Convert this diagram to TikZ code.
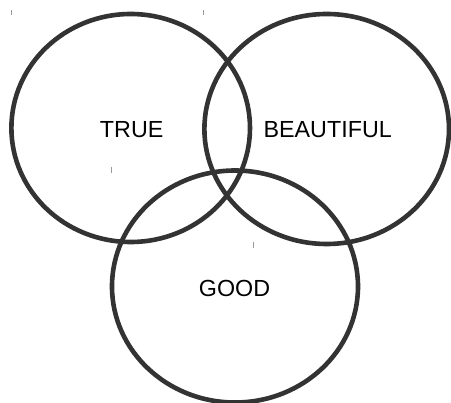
\documentclass[tikz,border=0pt]{standalone}
\usepackage{fontspec}
\setmainfont{Liberation Sans}
\usetikzlibrary{shapes.geometric}
\definecolor{ring}{HTML}{333333}
\definecolor{tick}{HTML}{9A9A9A}
\begin{document}
\begin{tikzpicture}[x=1pt,y=-1pt,
  ringshape/.style={ellipse,draw=ring,line width=4.6pt,inner sep=0pt,outer sep=0pt},
  label/.style={anchor=base,inner sep=0pt,font=\fontsize{23.3}{28}\selectfont,text=black},
  tickmark/.style={draw=tick,line width=0.9pt}]
\useasboundingbox (0,0) rectangle (451,403);
\node[ringshape,minimum width=238.6pt,minimum height=228pt] (true) at (130.7,128) {};
\node[ringshape,minimum width=244.6pt,minimum height=230pt] (beautiful) at (326.7,129) {};
\node[ringshape,minimum width=246pt,minimum height=232pt] (good) at (235,286.5) {};
\node[label] (ttrue) at (131.7,137.7) {TRUE};
\node[label] (tbeautiful) at (327.7,137.7) {BEAUTIFUL};
\node[label] (tgood) at (234.5,296.7) {GOOD};
\draw[tickmark] (11,10.5) -- (11,15);
\draw[tickmark] (203.5,10.5) -- (203.5,15);
\draw[tickmark] (111,167.5) -- (111,173);
\draw[tickmark] (253,242.5) -- (253,248);
\end{tikzpicture}
\end{document}
